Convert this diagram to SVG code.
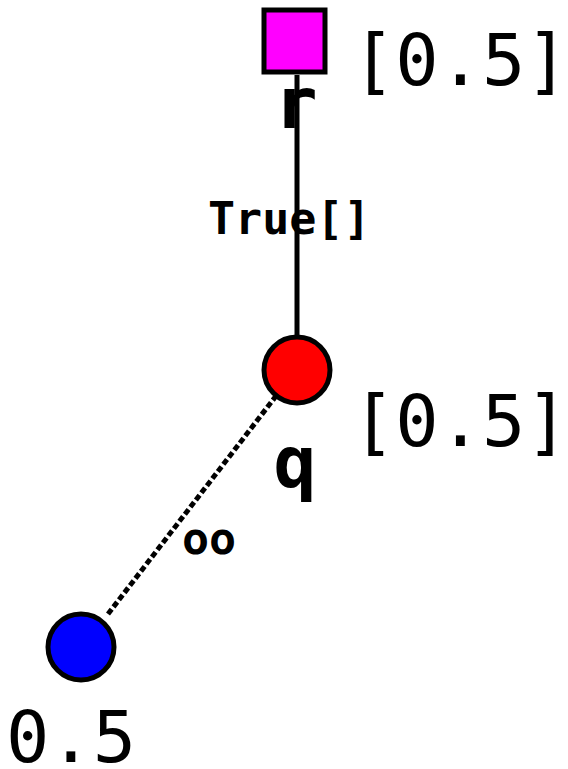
<svg xmlns="http://www.w3.org/2000/svg" width="568" height="769" viewBox="0 0 568 769">
<style>
.lbl{font-family:"DejaVu Sans Mono","Liberation Mono",monospace;fill:#000}
.big{font-size:72px}
.nm{font-size:72px;font-weight:bold}
.sm{font-size:45px;font-weight:bold}
.nd{stroke:#000;stroke-width:5}
</style>
<rect width="568" height="769" fill="#fff"/>
<g id="connectors">
<line x1="297" y1="75" x2="297" y2="336" stroke="#000" stroke-width="5"/>
<line x1="108" y1="614" x2="276" y2="396" stroke="#000" stroke-width="5" stroke-dasharray="6,3"/>
<text class="lbl sm" x="208" y="234">True[]</text>
<text class="lbl sm" x="182" y="554">oo</text>
</g>
<g id="r">
<rect class="nd" x="264" y="10" width="61" height="62" fill="#ff00ff" stroke-width="6"/>
<text class="lbl nm" x="296" y="128" text-anchor="middle">r</text>
<text class="lbl big" x="352" y="85">[0.5]</text>
</g>
<g id="q">
<circle class="nd" cx="297" cy="370" r="33" fill="#ff0000"/>
<text class="lbl nm" x="295" y="487" text-anchor="middle">q</text>
<text class="lbl big" x="352" y="446">[0.5]</text>
</g>
<g id="leaf">
<circle class="nd" cx="81" cy="647" r="33" fill="#0000ff"/>
<text class="lbl big" x="6" y="762">0.5</text>
</g>
</svg>
